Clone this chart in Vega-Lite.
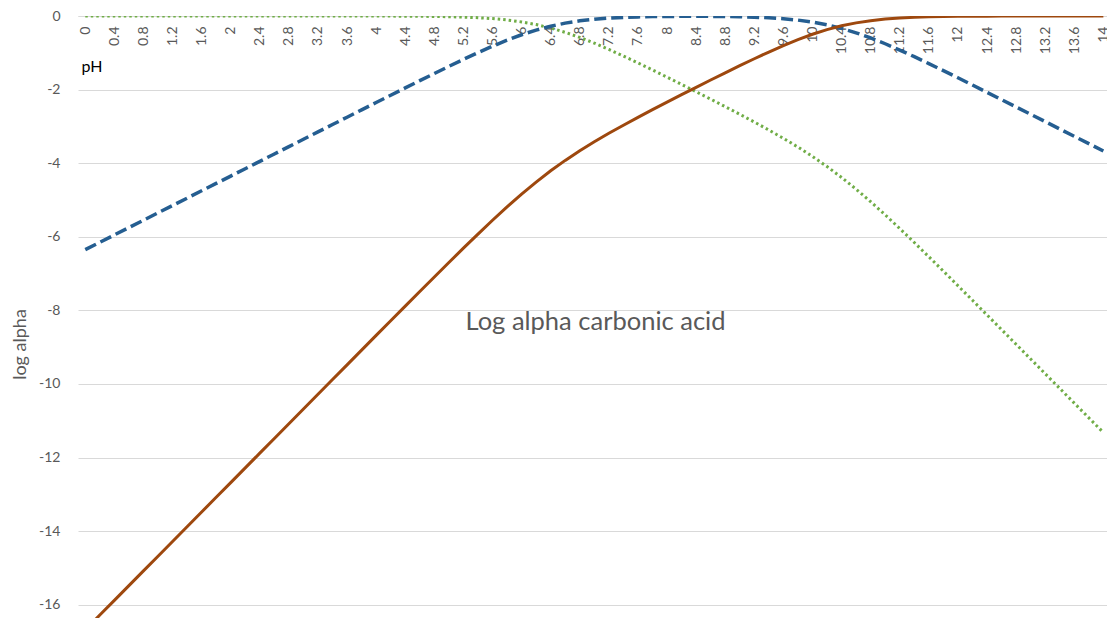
{
  "$schema": "https://vega.github.io/schema/vega-lite/v6.json",
  "width": 1029,
  "height": 602,
  "autosize": {"type": "none"},
  "padding": {"left": 78, "top": 16, "right": 0, "bottom": 0},
  "background": "white",
  "config": {"view": {"stroke": null}, "font": "Lato"},
  "title": {"text": "Log alpha carbonic acid", "orient": "top", "anchor": "middle", "frame": "group", "offset": -346, "baseline": "alphabetic", "fontSize": 25.5, "fontWeight": "normal", "color": "#595959", "font": "Lato", "dx": 3},
  "data": {"values": [
    {"pH": 0, "H2CO3": 0, "HCO3": -6.35, "CO3": -16.68},
    {"pH": 0.2, "H2CO3": 0, "HCO3": -6.15, "CO3": -16.28},
    {"pH": 0.4, "H2CO3": 0, "HCO3": -5.95, "CO3": -15.88},
    {"pH": 0.6, "H2CO3": 0, "HCO3": -5.75, "CO3": -15.48},
    {"pH": 0.8, "H2CO3": 0, "HCO3": -5.55, "CO3": -15.08},
    {"pH": 1.0, "H2CO3": 0, "HCO3": -5.35, "CO3": -14.68},
    {"pH": 1.2, "H2CO3": 0, "HCO3": -5.15, "CO3": -14.28},
    {"pH": 1.4, "H2CO3": 0, "HCO3": -4.95, "CO3": -13.88},
    {"pH": 1.6, "H2CO3": 0, "HCO3": -4.75, "CO3": -13.48},
    {"pH": 1.8, "H2CO3": 0, "HCO3": -4.55, "CO3": -13.08},
    {"pH": 2.0, "H2CO3": 0, "HCO3": -4.35, "CO3": -12.68},
    {"pH": 2.2, "H2CO3": 0, "HCO3": -4.15, "CO3": -12.28},
    {"pH": 2.4, "H2CO3": 0, "HCO3": -3.95, "CO3": -11.88},
    {"pH": 2.6, "H2CO3": 0, "HCO3": -3.75, "CO3": -11.48},
    {"pH": 2.8, "H2CO3": 0, "HCO3": -3.55, "CO3": -11.08},
    {"pH": 3.0, "H2CO3": 0, "HCO3": -3.35, "CO3": -10.68},
    {"pH": 3.2, "H2CO3": 0, "HCO3": -3.15, "CO3": -10.28},
    {"pH": 3.4, "H2CO3": 0, "HCO3": -2.95, "CO3": -9.88},
    {"pH": 3.6, "H2CO3": 0, "HCO3": -2.75, "CO3": -9.48},
    {"pH": 3.8, "H2CO3": 0, "HCO3": -2.55, "CO3": -9.08},
    {"pH": 4.0, "H2CO3": 0, "HCO3": -2.35, "CO3": -8.68},
    {"pH": 4.2, "H2CO3": -0.003, "HCO3": -2.153, "CO3": -8.283},
    {"pH": 4.4, "H2CO3": -0.005, "HCO3": -1.955, "CO3": -7.885},
    {"pH": 4.6, "H2CO3": -0.008, "HCO3": -1.758, "CO3": -7.488},
    {"pH": 4.8, "H2CO3": -0.012, "HCO3": -1.562, "CO3": -7.092},
    {"pH": 5.0, "H2CO3": -0.019, "HCO3": -1.369, "CO3": -6.699},
    {"pH": 5.2, "H2CO3": -0.03, "HCO3": -1.18, "CO3": -6.31},
    {"pH": 5.4, "H2CO3": -0.046, "HCO3": -0.996, "CO3": -5.926},
    {"pH": 5.6, "H2CO3": -0.071, "HCO3": -0.821, "CO3": -5.551},
    {"pH": 5.8, "H2CO3": -0.108, "HCO3": -0.658, "CO3": -5.188},
    {"pH": 6.0, "H2CO3": -0.16, "HCO3": -0.51, "CO3": -4.84},
    {"pH": 6.2, "H2CO3": -0.233, "HCO3": -0.383, "CO3": -4.513},
    {"pH": 6.4, "H2CO3": -0.327, "HCO3": -0.277, "CO3": -4.207},
    {"pH": 6.6, "H2CO3": -0.444, "HCO3": -0.194, "CO3": -3.924},
    {"pH": 6.8, "H2CO3": -0.582, "HCO3": -0.132, "CO3": -3.662},
    {"pH": 7.0, "H2CO3": -0.738, "HCO3": -0.088, "CO3": -3.418},
    {"pH": 7.2, "H2CO3": -0.908, "HCO3": -0.058, "CO3": -3.188},
    {"pH": 7.4, "H2CO3": -1.088, "HCO3": -0.038, "CO3": -2.968},
    {"pH": 7.6, "H2CO3": -1.275, "HCO3": -0.025, "CO3": -2.755},
    {"pH": 7.8, "H2CO3": -1.466, "HCO3": -0.016, "CO3": -2.546},
    {"pH": 8.0, "H2CO3": -1.662, "HCO3": -0.012, "CO3": -2.342},
    {"pH": 8.2, "H2CO3": -1.859, "HCO3": -0.009, "CO3": -2.139},
    {"pH": 8.4, "H2CO3": -2.059, "HCO3": -0.009, "CO3": -1.939},
    {"pH": 8.6, "H2CO3": -2.26, "HCO3": -0.01, "CO3": -1.74},
    {"pH": 8.8, "H2CO3": -2.464, "HCO3": -0.014, "CO3": -1.544},
    {"pH": 9.0, "H2CO3": -2.671, "HCO3": -0.021, "CO3": -1.351},
    {"pH": 9.2, "H2CO3": -2.882, "HCO3": -0.032, "CO3": -1.162},
    {"pH": 9.4, "H2CO3": -3.099, "HCO3": -0.049, "CO3": -0.979},
    {"pH": 9.6, "H2CO3": -3.324, "HCO3": -0.074, "CO3": -0.804},
    {"pH": 9.8, "H2CO3": -3.562, "HCO3": -0.112, "CO3": -0.642},
    {"pH": 10.0, "H2CO3": -3.817, "HCO3": -0.167, "CO3": -0.497},
    {"pH": 10.2, "H2CO3": -4.091, "HCO3": -0.241, "CO3": -0.371},
    {"pH": 10.4, "H2CO3": -4.387, "HCO3": -0.337, "CO3": -0.267},
    {"pH": 10.6, "H2CO3": -4.707, "HCO3": -0.457, "CO3": -0.187},
    {"pH": 10.8, "H2CO3": -5.047, "HCO3": -0.597, "CO3": -0.127},
    {"pH": 11.0, "H2CO3": -5.404, "HCO3": -0.754, "CO3": -0.084},
    {"pH": 11.2, "H2CO3": -5.775, "HCO3": -0.925, "CO3": -0.055},
    {"pH": 11.4, "H2CO3": -6.156, "HCO3": -1.106, "CO3": -0.036},
    {"pH": 11.6, "H2CO3": -6.543, "HCO3": -1.293, "CO3": -0.023},
    {"pH": 11.8, "H2CO3": -6.935, "HCO3": -1.485, "CO3": -0.015},
    {"pH": 12.0, "H2CO3": -7.329, "HCO3": -1.679, "CO3": -0.009},
    {"pH": 12.2, "H2CO3": -7.726, "HCO3": -1.876, "CO3": -0.006},
    {"pH": 12.4, "H2CO3": -8.124, "HCO3": -2.074, "CO3": -0.004},
    {"pH": 12.6, "H2CO3": -8.522, "HCO3": -2.272, "CO3": -0.002},
    {"pH": 12.8, "H2CO3": -8.922, "HCO3": -2.472, "CO3": -0.001},
    {"pH": 13.0, "H2CO3": -9.321, "HCO3": -2.671, "CO3": -0.001},
    {"pH": 13.2, "H2CO3": -9.721, "HCO3": -2.871, "CO3": -0.001},
    {"pH": 13.4, "H2CO3": -10.12, "HCO3": -3.07, "CO3": 0},
    {"pH": 13.6, "H2CO3": -10.52, "HCO3": -3.27, "CO3": 0},
    {"pH": 13.8, "H2CO3": -10.92, "HCO3": -3.47, "CO3": 0},
    {"pH": 14.0, "H2CO3": -11.32, "HCO3": -3.67, "CO3": 0}
  ]},
  "encoding": {
    "x": {"field": "pH", "type": "quantitative", "scale": {"domain": [-0.1, 14.05], "nice": false, "zero": false},
      "axis": {"orient": "bottom", "offset": -602,
        "values": [0, 0.4, 0.8, 1.2, 1.6, 2, 2.4, 2.8, 3.2, 3.6, 4, 4.4, 4.8, 5.2, 5.6, 6, 6.4, 6.8, 7.2, 7.6, 8, 8.4, 8.8, 9.2, 9.6, 10, 10.4, 10.8, 11.2, 11.6, 12, 12.4, 12.8, 13.2, 13.6, 14],
        "format": "~g", "labelAngle": -90, "labelAlign": "right", "labelBaseline": "middle", "labelPadding": 10,
        "labelFontSize": 14, "labelColor": "#595959", "labelFont": "Lato", "labelOverlap": false, "labelFlush": false, "labelBound": false,
        "ticks": false, "grid": false, "domainColor": "#d9d9d9", "domainWidth": 1,
        "title": "pH", "titleX": 3, "titleY": 55, "titleAnchor": "start", "titleAlign": "left", "titleBaseline": "alphabetic",
        "titleFontSize": 16, "titleFontWeight": "normal", "titleColor": "#000000", "titleFont": "Lato"}}
  },
  "layer": [
    {
      "mark": {"type": "line", "clip": true, "color": "#70AD47", "strokeWidth": 3, "strokeDash": [2.5, 3], "strokeCap": "butt"},
      "encoding": {
        "y": {"field": "H2CO3", "type": "quantitative", "scale": {"domain": [-16.36, 0], "nice": false, "zero": false},
          "axis": {"values": [0, -2, -4, -6, -8, -10, -12, -14, -16], "labelExpr": "'' + datum.value",
            "grid": true, "gridColor": "#d9d9d9", "gridWidth": 1, "domain": false, "ticks": false, "labelPadding": 18,
            "labelFontSize": 14, "labelColor": "#595959", "labelFont": "Lato",
            "title": "log alpha", "titleX": -58, "titleY": 328, "titleAngle": -90, "titleAlign": "center", "titleBaseline": "middle",
            "titleFontSize": 18, "titleColor": "#595959", "titleFontWeight": "normal", "titleFont": "Lato"}}
      }
    },
    {
      "mark": {"type": "line", "clip": true, "color": "#255E91", "strokeWidth": 3.5, "strokeDash": [12, 5], "strokeCap": "butt"},
      "encoding": {
        "y": {"field": "HCO3", "type": "quantitative"}
      }
    },
    {
      "mark": {"type": "line", "clip": true, "color": "#9E480E", "strokeWidth": 3},
      "encoding": {
        "y": {"field": "CO3", "type": "quantitative"}
      }
    }
  ]
}
